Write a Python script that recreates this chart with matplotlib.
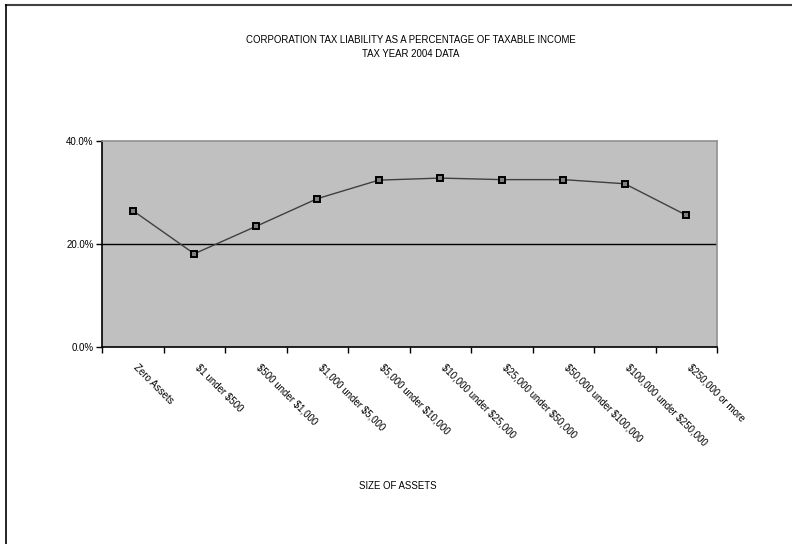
import matplotlib
matplotlib.use("Agg")
import matplotlib.pyplot as plt
from matplotlib.lines import Line2D
from matplotlib.ticker import FuncFormatter, MultipleLocator

plt.rcParams['font.family'] = ['Liberation Sans', 'DejaVu Sans']
plt.rcParams['text.parse_math'] = False

categories = ["Zero Assets", "$1 under $500", "$500 under $1,000", "$1,000 under $5,000",
              "$5,000 under $10,000", "$10,000 under $25,000", "$25,000 under $50,000",
              "$50,000 under $100,000", "$100,000 under $250,000", "$250,000 or more"]
tax_pct = [26.5, 18.1, 23.4, 28.8, 32.4, 32.8, 32.5, 32.5, 31.7, 25.6]

title = "CORPORATION TAX LIABILITY AS A PERCENTAGE OF TAXABLE INCOME\nTAX YEAR 2004 DATA"
xlabel = "SIZE OF ASSETS"

fig = plt.figure(figsize=(7.92, 5.44), dpi=100)
W, H = 792, 544
ax = fig.add_axes([102 / W, 1 - 347 / H, (717 - 102) / W, (347 - 141) / H])
ax.set_facecolor("#c0c0c0")

x = [i + 0.5 for i in range(len(categories))]
ax.plot(x, tax_pct, color="#404040", lw=1.0, marker="s", markersize=4.5,
        markerfacecolor="#808080", markeredgecolor="black", markeredgewidth=1.4, zorder=3)

ax.set_xlim(0, len(categories))
ax.set_ylim(0, 40)
ax.yaxis.set_major_locator(MultipleLocator(20))
ax.yaxis.set_major_formatter(FuncFormatter(lambda v, p: f"{v:.1f}%"))
ax.axhline(20, color="black", lw=1.0, zorder=2)

ax.set_xticks(range(len(categories) + 1))
ax.set_xticklabels([])
ax.tick_params(axis="x", length=4, width=1, direction="out", color="black")
ax.tick_params(axis="y", length=4, width=1, direction="out", labelsize=7, pad=2)
for xi, lab in zip(x, categories):
    ax.text(xi + 0.1, -3.0, lab, rotation=-45, rotation_mode="anchor", ha="left", va="top",
            fontsize=7, transform=ax.transData, clip_on=False)

for side in ["left", "bottom"]:
    ax.spines[side].set_color("black")
    ax.spines[side].set_linewidth(1.2)
for side in ["top", "right"]:
    ax.spines[side].set_color("#909090")
    ax.spines[side].set_linewidth(1.2)

fig.text(411 / W, 1 - 47 / H, title, ha="center", va="center", fontsize=6.9, linespacing=1.5)
fig.text(398 / W, 1 - 486 / H, xlabel, ha="center", va="center", fontsize=6.9)

# page frame
fig.add_artist(Line2D([6 / W, 1], [1 - 5 / H, 1 - 5 / H], transform=fig.transFigure,
                      color="#404040", lw=1.5))
fig.add_artist(Line2D([6 / W, 6 / W], [0, 1 - 5 / H], transform=fig.transFigure,
                      color="black", lw=1.2))

fig.savefig("out.png", dpi=100)
